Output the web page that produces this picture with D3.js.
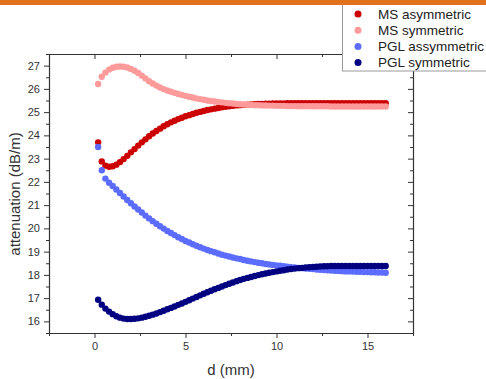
<!DOCTYPE html>
<html><head><meta charset="utf-8">
<script src="https://cdn.jsdelivr.net/npm/d3@7"></script>
<style>html,body{margin:0;padding:0;background:#fff;}svg{display:block;}</style>
</head><body><svg id="c" width="486" height="379"></svg>
<script>
const dValues = [0.2,0.4,0.6,0.8,1.0,1.2,1.4,1.6,1.8,2.0,2.2,2.4,2.6,2.8,3.0,3.2,3.4,3.6,3.8,4.0,
4.2,4.4,4.6,4.8,5.0,5.2,5.4,5.6,5.8,6.0,6.2,6.4,6.6,6.8,7.0,7.2,7.4,7.6,7.8,8.0,
8.2,8.4,8.6,8.8,9.0,9.2,9.4,9.6,9.8,10.0,10.2,10.4,10.6,10.8,11.0,11.2,11.4,11.6,11.8,12.0,
12.2,12.4,12.6,12.8,13.0,13.2,13.4,13.6,13.8,14.0,14.2,14.4,14.6,14.8,15.0,15.2,15.4,15.6,15.8,16.0];

const msAsym = [23.70,22.88,22.70,22.65,22.67,22.74,22.85,22.98,23.12,23.27,23.41,23.56,23.70,23.83,23.96,24.08,24.19,24.29,24.39,24.48,
24.56,24.63,24.70,24.76,24.82,24.87,24.92,24.97,25.01,25.05,25.09,25.12,25.15,25.18,25.21,25.23,25.25,25.27,25.29,25.30,
25.31,25.32,25.33,25.34,25.35,25.35,25.36,25.36,25.37,25.37,25.37,25.37,25.38,25.38,25.38,25.38,25.38,25.38,25.38,25.38,
25.38,25.38,25.38,25.38,25.38,25.38,25.38,25.38,25.38,25.38,25.38,25.38,25.38,25.38,25.38,25.38,25.38,25.38,25.38,25.38];

const msSym = [26.21,26.52,26.70,26.83,26.91,26.95,26.96,26.95,26.92,26.86,26.78,26.68,26.57,26.45,26.33,26.23,26.14,26.06,25.99,25.93,
25.88,25.83,25.78,25.74,25.70,25.66,25.63,25.59,25.56,25.53,25.50,25.48,25.46,25.44,25.42,25.40,25.38,25.37,25.35,25.34,
25.33,25.32,25.31,25.30,25.30,25.29,25.29,25.28,25.28,25.27,25.27,25.27,25.26,25.26,25.26,25.25,25.25,25.25,25.25,25.25,
25.25,25.25,25.25,25.25,25.24,25.24,25.24,25.24,25.24,25.24,25.24,25.24,25.24,25.24,25.24,25.24,25.24,25.24,25.24,25.24];

const pglAsym = [23.50,22.50,22.14,21.96,21.82,21.67,21.52,21.37,21.22,21.08,20.94,20.81,20.68,20.55,20.43,20.31,20.20,20.09,19.99,19.89,
19.80,19.71,19.62,19.54,19.46,19.39,19.32,19.25,19.19,19.13,19.07,19.02,18.97,18.92,18.87,18.83,18.79,18.75,18.71,18.68,
18.64,18.61,18.58,18.55,18.52,18.50,18.47,18.45,18.43,18.41,18.39,18.37,18.35,18.33,18.32,18.30,18.29,18.27,18.26,18.25,
18.23,18.22,18.21,18.20,18.19,18.18,18.17,18.16,18.15,18.15,18.14,18.13,18.13,18.12,18.12,18.11,18.11,18.10,18.10,18.09];

const pglSym = [16.93,16.72,16.55,16.42,16.31,16.22,16.16,16.12,16.10,16.10,16.11,16.13,16.16,16.20,16.24,16.29,16.34,16.40,16.46,16.52,
16.58,16.64,16.71,16.77,16.84,16.91,16.98,17.05,17.12,17.19,17.25,17.32,17.38,17.44,17.50,17.56,17.62,17.67,17.73,17.78,
17.83,17.87,17.91,17.95,17.99,18.03,18.06,18.09,18.12,18.15,18.18,18.20,18.23,18.25,18.27,18.29,18.30,18.32,18.33,18.34,
18.35,18.36,18.37,18.37,18.38,18.38,18.38,18.38,18.38,18.38,18.38,18.38,18.38,18.38,18.38,18.38,18.38,18.38,18.38,18.38];

const seriesNames = ["MS asymmetric","MS symmetric","PGL assymmetric","PGL symmetric"];
const seriesColors = ["#cc0000","#ff9a9a","#5c6cff","#000080"];
const xTicks = [0,5,10,15];
const yTicks = [16,17,18,19,20,21,22,23,24,25,26,27];
const xLabel = "d (mm)";
const yLabel = "attenuation (dB/m)";

const seriesData = [msAsym, msSym, pglAsym, pglSym];

const svg = d3.select("#c");
const L = 49, T = 54, R = 413, B = 333;
const x = d3.scaleLinear().domain([-2.5, 17.5]).range([L, R]);
const y = d3.scaleLinear().domain([15.5, 27.5]).range([B, T]);
const axisColor = "#333";

// data
seriesData.forEach((vals, i) => {
  svg.append("g").selectAll("circle").data(vals).join("circle")
    .attr("cx", (v, j) => x(dValues[j]))
    .attr("cy", v => y(v))
    .attr("r", 3.2)
    .attr("fill", seriesColors[i]);
});

function styleAxis(g) {
  g.selectAll("path").attr("stroke", axisColor).attr("stroke-width", 1.2);
  g.selectAll("line").attr("stroke", axisColor).attr("stroke-width", 1);
  g.selectAll("text").attr("fill", "#333").attr("font-family", "Liberation Sans, Arial, sans-serif").attr("font-size", 11);
}
const xMinor = d3.range(-2.5, 17.51, 2.5).filter(v => !xTicks.includes(v));
const yMinor = d3.range(15.5, 27.51, 0.5).filter(v => !yTicks.includes(v));

// bottom
const gb = svg.append("g").attr("transform", `translate(0,${B})`)
  .call(d3.axisBottom(x).tickValues(xTicks).tickSize(5).tickPadding(4).tickSizeOuter(0));
styleAxis(gb);
svg.append("g").attr("transform", `translate(0,${B})`)
  .call(d3.axisBottom(x).tickValues(xMinor).tickSize(3).tickFormat("").tickSizeOuter(0))
  .call(g => { g.select("path").remove(); styleAxis(g); });
// left
const gl = svg.append("g").attr("transform", `translate(${L},0)`)
  .call(d3.axisLeft(y).tickValues(yTicks).tickSize(5).tickPadding(4).tickSizeOuter(0));
styleAxis(gl);
svg.append("g").attr("transform", `translate(${L},0)`)
  .call(d3.axisLeft(y).tickValues(yMinor).tickSize(3).tickFormat("").tickSizeOuter(0))
  .call(g => { g.select("path").remove(); styleAxis(g); });
// top (inward)
svg.append("g").attr("transform", `translate(0,${T})`)
  .call(d3.axisBottom(x).tickValues(xTicks).tickSize(5).tickFormat("").tickSizeOuter(0))
  .call(styleAxis);
svg.append("g").attr("transform", `translate(0,${T})`)
  .call(d3.axisBottom(x).tickValues(xMinor).tickSize(3).tickFormat("").tickSizeOuter(0))
  .call(g => { g.select("path").remove(); styleAxis(g); });
// right (inward)
svg.append("g").attr("transform", `translate(${R},0)`)
  .call(d3.axisLeft(y).tickValues(yTicks).tickSize(5).tickFormat("").tickSizeOuter(0))
  .call(styleAxis);
svg.append("g").attr("transform", `translate(${R},0)`)
  .call(d3.axisLeft(y).tickValues(yMinor).tickSize(3).tickFormat("").tickSizeOuter(0))
  .call(g => { g.select("path").remove(); styleAxis(g); });

// axis titles
svg.append("text").attr("x", (L + R) / 2 + 0).attr("y", 375)
  .attr("text-anchor", "middle").attr("font-family", "Liberation Sans, Arial, sans-serif")
  .attr("font-size", 15).attr("fill", "#333").text(xLabel);
svg.append("text").attr("transform", `translate(20,194) rotate(-90)`)
  .attr("text-anchor", "middle").attr("font-family", "Liberation Sans, Arial, sans-serif")
  .attr("font-size", 15).attr("fill", "#333").text(yLabel);

// legend
const lg = svg.append("g");
lg.append("rect").attr("x", 342.5).attr("y", -2).attr("width", 160).attr("height", 73)
  .attr("fill", "#fff").attr("stroke", "#999").attr("stroke-width", 1);
seriesNames.forEach((n, i) => {
  const yy = 14 + i * 16.2;
  lg.append("circle").attr("cx", 358).attr("cy", yy).attr("r", 3.5).attr("fill", seriesColors[i]);
  lg.append("text").attr("x", 378).attr("y", yy).attr("dy", "0.35em")
    .attr("font-family", "Liberation Sans, Arial, sans-serif").attr("font-size", 13.5)
    .attr("fill", "#222").text(n);
});

// top orange bar
svg.append("rect").attr("x", 0).attr("y", 0).attr("width", 486).attr("height", 5).attr("fill", "#e2711d");
</script>
</body></html>
